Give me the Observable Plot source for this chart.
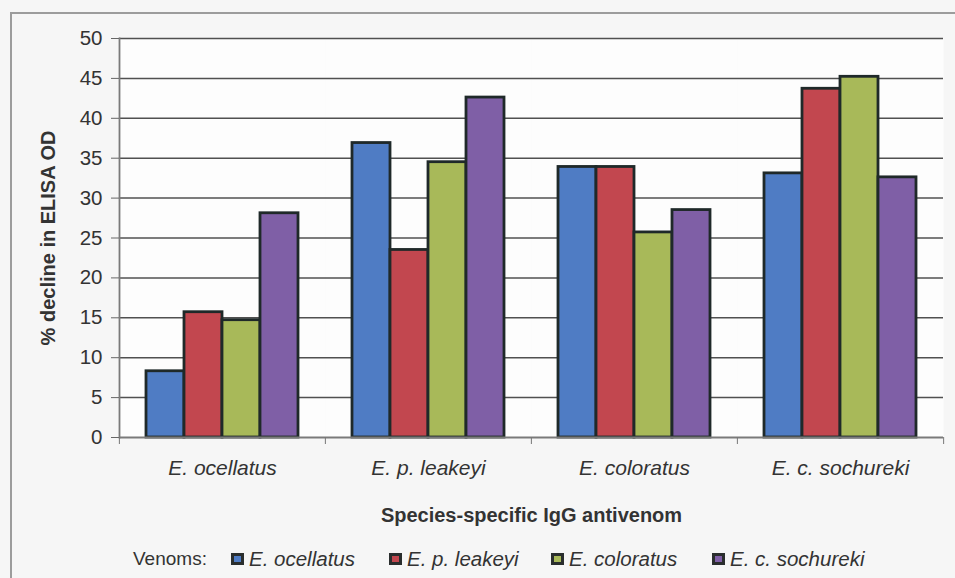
<!DOCTYPE html>
<html><head><meta charset="utf-8">
<script src="https://cdn.jsdelivr.net/npm/d3@7"></script>
<script src="https://cdn.jsdelivr.net/npm/@observablehq/plot@0.6"></script>
<style>
  body{margin:0;background:#f6f6f6;font-family:"Liberation Sans",Arial,sans-serif;width:955px;height:578px;overflow:hidden;position:relative;}
  #frame{position:absolute;left:10px;top:12px;width:945px;height:566px;border-left:2px solid #9c9c9c;border-top:2px solid #9c9c9c;}
  #chart{position:absolute;left:0;top:0;}
  #chart [aria-label="y-axis label"], #chart [aria-label="fx-axis label"]{font-weight:bold;font-size:20px;font-style:normal;}
  #legend{position:absolute;top:548px;left:0;width:955px;height:26px;font-size:19px;line-height:22px;color:#333;}
  #legend .item{position:absolute;top:0;display:flex;align-items:center;white-space:nowrap;}
  #legend .sw{width:7px;height:6px;border:3px solid #2a2e2e;margin-right:5px;}
  #legend .lab{font-style:italic;font-size:20.5px;}
</style>
</head><body>
<div id="frame"></div>
<div id="chart"></div>
<div id="legend"></div>
<script>
// ---- data ----
const antivenoms = ["E. ocellatus", "E. p. leakeyi", "E. coloratus", "E. c. sochureki"];
const venoms = ["E. ocellatus", "E. p. leakeyi", "E. coloratus", "E. c. sochureki"];
const venomOcellatus  = [8.3, 36.9, 33.9, 33.1];
const venomLeakeyi    = [15.7, 23.5, 33.9, 43.7];
const venomColoratus  = [14.7, 34.5, 25.7, 45.2];
const venomSochureki  = [28.1, 42.6, 28.5, 32.6];
const yTicks = [0, 5, 10, 15, 20, 25, 30, 35, 40, 45, 50];
const colors = ["#4f7cc4", "#c2474f", "#a8b959", "#7f5fa6"];

const series = [venomOcellatus, venomLeakeyi, venomColoratus, venomSochureki];
const rows = [];
antivenoms.forEach((a, i) => venoms.forEach((v, j) => rows.push({antivenom: a, venom: v, value: series[j][i]})));

// ---- layout ----
const W = 955, H = 535, mL = 118, mR = 12, mT = 38, mB = 98;
const step = (W - mL - mR) / antivenoms.length;
const font = '"Liberation Sans", Arial, sans-serif';

const chart = Plot.plot({
  width: W, height: H,
  marginLeft: mL, marginRight: mR, marginTop: mT, marginBottom: mB,
  style: {background: "transparent", fontFamily: font, fontSize: "20px", color: "#333"},
  fx: {domain: antivenoms, padding: 0},
  x: {domain: venoms, paddingInner: 0, paddingOuter: 0.71, axis: null},
  y: {domain: [0, 50]},
  color: {domain: venoms, range: colors},
  marks: [
    Plot.frame({fill: "#fdfdfd", stroke: "none"}),
    Plot.ruleY(yTicks.slice(1), {stroke: "#505050", strokeWidth: 1.5}),
    Plot.barY(rows, {fx: "antivenom", x: "venom", y: "value", fill: "venom", stroke: "#1f2929", strokeWidth: 2.8}),
    Plot.ruleY([0], {stroke: "#7a7a7a", strokeWidth: 1.8}),
    Plot.frame({anchor: "left", facetAnchor: "left", stroke: "#7a7a7a", strokeWidth: 1.8}),
    Plot.axisY({ticks: yTicks, tickSize: 8, tickPadding: 9, stroke: "#666", fill: "#333", fontSize: 20.5,
      label: "% decline in ELISA OD", labelAnchor: "center", labelOffset: 79, labelArrow: "none"}),
    Plot.axisFx({anchor: "bottom", tickSize: 0, tickPadding: 23, fontSize: 21, fontStyle: "italic", fill: "#333",
      label: "Species-specific IgG antivenom", labelAnchor: "center", labelOffset: 84, labelArrow: "none"}),
    Plot.axisFx({anchor: "bottom", tickSize: 7, tickFormat: () => "", label: null, stroke: "#777", dx: -step / 2}),
    Plot.axisFx({anchor: "bottom", ticks: [antivenoms[antivenoms.length - 1]], tickSize: 7, tickFormat: () => "", label: null, stroke: "#777", dx: step / 2})
  ]
});
document.getElementById("chart").appendChild(chart);

// ---- legend ----
const legend = document.getElementById("legend");
const head = document.createElement("span");
head.className = "item";
head.textContent = "Venoms:";
head.style.left = "133px";
legend.appendChild(head);
const swatchLeft = [231, 389, 551, 712];
venoms.forEach((v, j) => {
  const it = document.createElement("span"); it.className = "item"; it.style.left = swatchLeft[j] + "px";
  const sw = document.createElement("span"); sw.className = "sw"; sw.style.background = colors[j];
  const lab = document.createElement("span"); lab.className = "lab"; lab.textContent = v;
  it.appendChild(sw); it.appendChild(lab); legend.appendChild(it);
});
</script>
</body></html>
